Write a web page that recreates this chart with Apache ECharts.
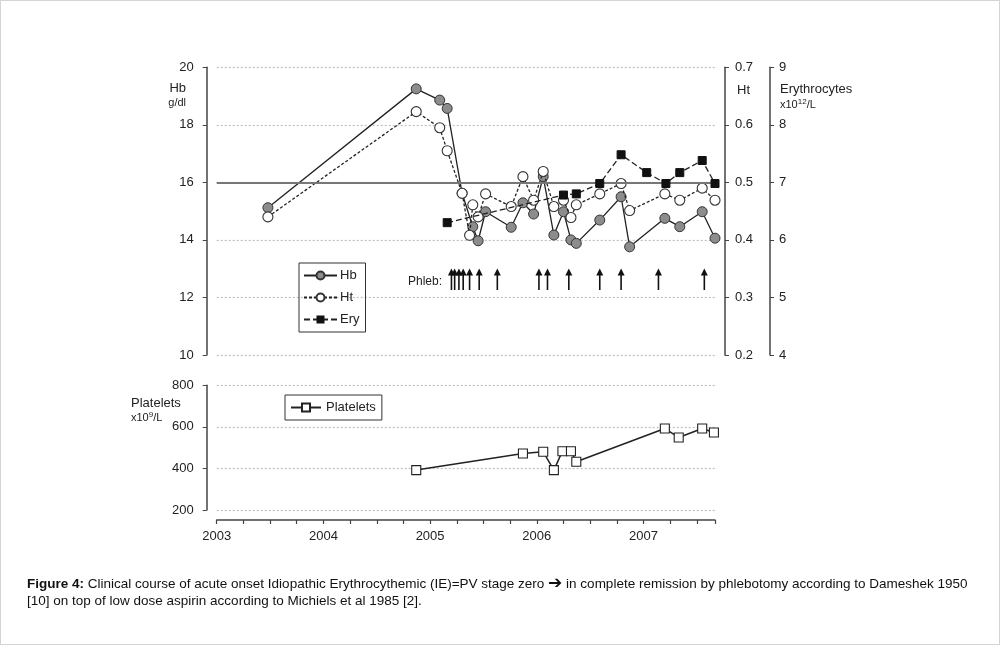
<!DOCTYPE html>
<html><head><meta charset="utf-8">
<script src="https://cdn.jsdelivr.net/npm/echarts@6/dist/echarts.min.js"></script>
<style>
html,body{margin:0;padding:0;background:#fff;}
#chart{position:absolute;left:0;top:0;width:1000px;height:645px;}
#frame{position:absolute;left:0;top:0;width:1000px;height:645px;box-sizing:border-box;border:1px solid #d4d4d4;pointer-events:none;}
#cap{position:absolute;left:27px;top:574px;width:948px;font-family:"Liberation Sans",Arial,sans-serif;font-size:13.5px;line-height:17px;color:#111;}
#cap b{font-weight:bold;}
#cap .arr{font-family:"DejaVu Sans";font-weight:bold;font-size:17px;}
</style></head><body>
<div id="chart"></div>
<div id="frame"></div>
<div id="cap"><b>Figure 4:</b> Clinical course of acute onset Idiopathic Erythrocythemic (IE)=PV stage zero <span class="arr">➔</span> in complete remission by phlebotomy according to Dameshek 1950 [10] on top of low dose aspirin according to Michiels et al 1985 [2].</div>
<script>
// measurement dates (decimal years)
const dates = [2003.48, 2004.87, 2005.09, 2005.16, 2005.30, 2005.37, 2005.40, 2005.45, 2005.52, 2005.76, 2005.87, 2005.97, 2006.06, 2006.16, 2006.25, 2006.32, 2006.37, 2006.59, 2006.79, 2006.87, 2007.20, 2007.34, 2007.55, 2007.67];
// Hb g/dl
const hb = [15.12, 19.25, 18.86, 18.57, 15.62, null, 14.46, 13.97, 14.98, 14.44, 15.29, 14.90, 16.20, 14.17, 14.98, 14.00, 13.88, 14.69, 15.50, 13.76, 14.75, 14.46, 14.98, 14.06];
// Ht
const ht = [0.440, 0.623, 0.595, 0.555, 0.481, 0.408, 0.461, 0.440, 0.480, 0.458, 0.510, 0.469, 0.519, 0.458, 0.469, 0.439, 0.461, 0.480, 0.498, 0.451, 0.480, 0.469, 0.490, 0.469];
// Erythrocytes x10^12/L
const eryDates = [2005.16, 2006.25, 2006.37, 2006.59, 2006.79, 2007.03, 2007.21, 2007.34, 2007.55, 2007.67];
const ery = [6.30, 6.78, 6.80, 6.98, 7.48, 7.17, 6.98, 7.17, 7.38, 6.98];
// Platelets x10^9/L
const pltDates = [2004.87, 2005.87, 2006.06, 2006.16, 2006.24, 2006.32, 2006.37, 2007.20, 2007.33, 2007.55, 2007.66];
const plt = [392, 472, 480, 392, 483, 483, 432, 592, 549, 592, 573];
// Phlebotomy dates
const phlebDates = [2005.20, 2005.23, 2005.27, 2005.31, 2005.37, 2005.46, 2005.63, 2006.02, 2006.10, 2006.30, 2006.59, 2006.79, 2007.14, 2007.57];
// axis tick settings
const yearLabels = [2003, 2004, 2005, 2006, 2007];

const pairs = (xs, ys) => xs.map((x, i) => [x, ys[i]]).filter(p => p[1] !== null);
const FONT = '"Liberation Sans", Arial, sans-serif';
const arrowBase = 12.26, arrowTip = 13.01;
const XMIN = yearLabels[0], XMAX = 2007.67;

const chart = echarts.init(document.getElementById('chart'), null, {renderer: 'canvas'});
const gridLeft = 216.7, gridW = 498.3;
const axisCol = '#444';
const lblStyle = {fontSize: 13, color: '#222', fontFamily: FONT};
const split = {show: true, lineStyle: {type: [2, 2], color: '#c4bcc0', width: 1.2}};

chart.setOption({
  animation: false,
  textStyle: {fontFamily: FONT},
  grid: [
    {left: gridLeft, top: 67.3, width: gridW, height: 287.7},
    {left: gridLeft, top: 385.3, width: gridW, height: 124.7}
  ],
  xAxis: [
    {gridIndex: 0, type: 'value', min: XMIN, max: XMAX, show: false},
    {gridIndex: 1, type: 'value', min: XMIN, max: XMAX, interval: 1, offset: 10,
     axisLine: {show: true, lineStyle: {color: axisCol, width: 1.5}},
     axisTick: {show: true, length: 4, lineStyle: {color: axisCol, width: 1.2}},
     minorTick: {show: true, splitNumber: 4, length: 4, lineStyle: {color: axisCol, width: 1.2}},
     splitLine: {show: false},
     axisLabel: Object.assign({margin: 10, showMaxLabel: false, formatter: v => String(Math.round(v))}, lblStyle)}
  ],
  yAxis: [
    {gridIndex: 0, type: 'value', min: 10, max: 20, interval: 2, position: 'left', offset: 10,
     axisLine: {show: true, lineStyle: {color: axisCol, width: 1.5}},
     axisTick: {show: true, length: 4, lineStyle: {color: axisCol}},
     axisLabel: Object.assign({margin: 13}, lblStyle), splitLine: split},
    {gridIndex: 0, type: 'value', min: 0.2, max: 0.7, interval: 0.1, position: 'right', offset: 10,
     axisLine: {show: true, lineStyle: {color: axisCol, width: 1.5}},
     axisTick: {show: true, length: 4, lineStyle: {color: axisCol}},
     axisLabel: Object.assign({margin: 10, formatter: v => v.toFixed(1)}, lblStyle), splitLine: {show: false}},
    {gridIndex: 0, type: 'value', min: 4, max: 9, interval: 1, position: 'right', offset: 55,
     axisLine: {show: true, lineStyle: {color: axisCol, width: 1.5}},
     axisTick: {show: true, length: 4, lineStyle: {color: axisCol}},
     axisLabel: Object.assign({margin: 9}, lblStyle), splitLine: {show: false}},
    {gridIndex: 1, type: 'value', min: 200, max: 800, interval: 200, position: 'left', offset: 10,
     axisLine: {show: true, lineStyle: {color: axisCol, width: 1.5}},
     axisTick: {show: true, length: 4, lineStyle: {color: axisCol}},
     axisLabel: Object.assign({margin: 13}, lblStyle), splitLine: split}
  ],
  legend: [
    {orient: 'vertical', left: 299, top: 263, itemWidth: 33, itemHeight: 10, itemGap: 9,
     padding: [6, 6, 6, 4], borderColor: '#333', borderWidth: 1, borderRadius: 0,
     textStyle: {fontSize: 13, color: '#222', fontFamily: FONT, padding: [0, 0, 0, -2]},
     data: ['Hb', 'Ht', 'Ery']},
    {orient: 'horizontal', left: 285, top: 395, itemWidth: 30, itemHeight: 10,
     padding: [6, 6, 6, 5], borderColor: '#333', borderWidth: 1,
     textStyle: {fontSize: 13, color: '#222', fontFamily: FONT},
     data: ['Platelets']}
  ],
  graphic: [
    {type: 'text', x: 186, y: 88, style: {text: 'Hb', font: '13px ' + FONT, fill: '#222', align: 'right', verticalAlign: 'middle'}},
    {type: 'text', x: 186, y: 103, style: {text: 'g/dl', font: '11px ' + FONT, fill: '#222', align: 'right', verticalAlign: 'middle'}},
    {type: 'text', x: 737, y: 90, style: {text: 'Ht', font: '13px ' + FONT, fill: '#222', align: 'left', verticalAlign: 'middle'}},
    {type: 'text', x: 780, y: 89, style: {text: 'Erythrocytes', font: '13px ' + FONT, fill: '#222', align: 'left', verticalAlign: 'middle'}},
    {type: 'text', x: 780, y: 104, style: {text: '{a|x10}{s|12}{a|/L}', rich: {a: {fontSize: 11, fontFamily: FONT, fill: '#222', verticalAlign: 'bottom'}, s: {fontSize: 8, fontFamily: FONT, fill: '#222', verticalAlign: 'top', padding: [0, 0, 4, 0]}}, align: 'left', verticalAlign: 'middle'}},
    {type: 'text', x: 131, y: 403, style: {text: 'Platelets', font: '13px ' + FONT, fill: '#222', align: 'left', verticalAlign: 'middle'}},
    {type: 'text', x: 131, y: 417, style: {text: '{a|x10}{s|9}{a|/L}', rich: {a: {fontSize: 11, fontFamily: FONT, fill: '#222', verticalAlign: 'bottom'}, s: {fontSize: 8, fontFamily: FONT, fill: '#222', verticalAlign: 'top', padding: [0, 0, 4, 0]}}, align: 'left', verticalAlign: 'middle'}},
    {type: 'text', x: 442, y: 282, style: {text: 'Phleb:', font: '12px ' + FONT, fill: '#222', align: 'right', verticalAlign: 'middle'}}
  ],
  series: [
    {name: 'Hb', type: 'line', xAxisIndex: 0, yAxisIndex: 0, data: pairs(dates, hb),
     symbol: 'circle', symbolSize: 10, z: 3,
     itemStyle: {color: '#8c8c8c', borderColor: '#333', borderWidth: 1},
     lineStyle: {color: '#222', width: 1.3},
     markLine: {silent: true, symbol: 'none', label: {show: false},
                lineStyle: {type: 'solid', color: '#777', width: 2},
                data: [{yAxis: 16}]}},
    {name: 'Ht', type: 'line', xAxisIndex: 0, yAxisIndex: 1, data: pairs(dates, ht),
     symbol: 'circle', symbolSize: 10, z: 4,
     itemStyle: {color: '#fff', borderColor: '#333', borderWidth: 1.1},
     lineStyle: {color: '#222', width: 1.3, type: [3, 2]}},
    {name: 'Ery', type: 'line', xAxisIndex: 0, yAxisIndex: 2, data: pairs(eryDates, ery),
     symbol: 'rect', symbolSize: 8, z: 5,
     itemStyle: {color: '#111', borderColor: '#111'},
     lineStyle: {color: '#222', width: 1.3, type: [6, 3]}},
    {name: 'Phleb', type: 'custom', xAxisIndex: 0, yAxisIndex: 0,
     data: phlebDates.map(d => [d, arrowTip]), encode: {x: 0, y: 1}, z: 6,
     renderItem: function (params, api) {
       const x = api.value(0);
       const b = api.coord([x, arrowBase]);
       const t = api.coord([x, arrowTip]);
       return {type: 'group', children: [
         {type: 'line', shape: {x1: b[0], y1: b[1], x2: t[0], y2: t[1] + 4}, style: {stroke: '#111', lineWidth: 1.6}},
         {type: 'polygon', shape: {points: [[t[0], t[1]], [t[0] - 3.5, t[1] + 7], [t[0] + 3.5, t[1] + 7]]}, style: {fill: '#111'}}
       ]};
     }},
    {name: 'Platelets', type: 'line', xAxisIndex: 1, yAxisIndex: 3, data: pairs(pltDates, plt),
     symbol: 'rect', symbolSize: 9,
     itemStyle: {color: '#fff', borderColor: '#222', borderWidth: 1.1},
     lineStyle: {color: '#222', width: 1.5}}
  ]
});
</script>
</body></html>
